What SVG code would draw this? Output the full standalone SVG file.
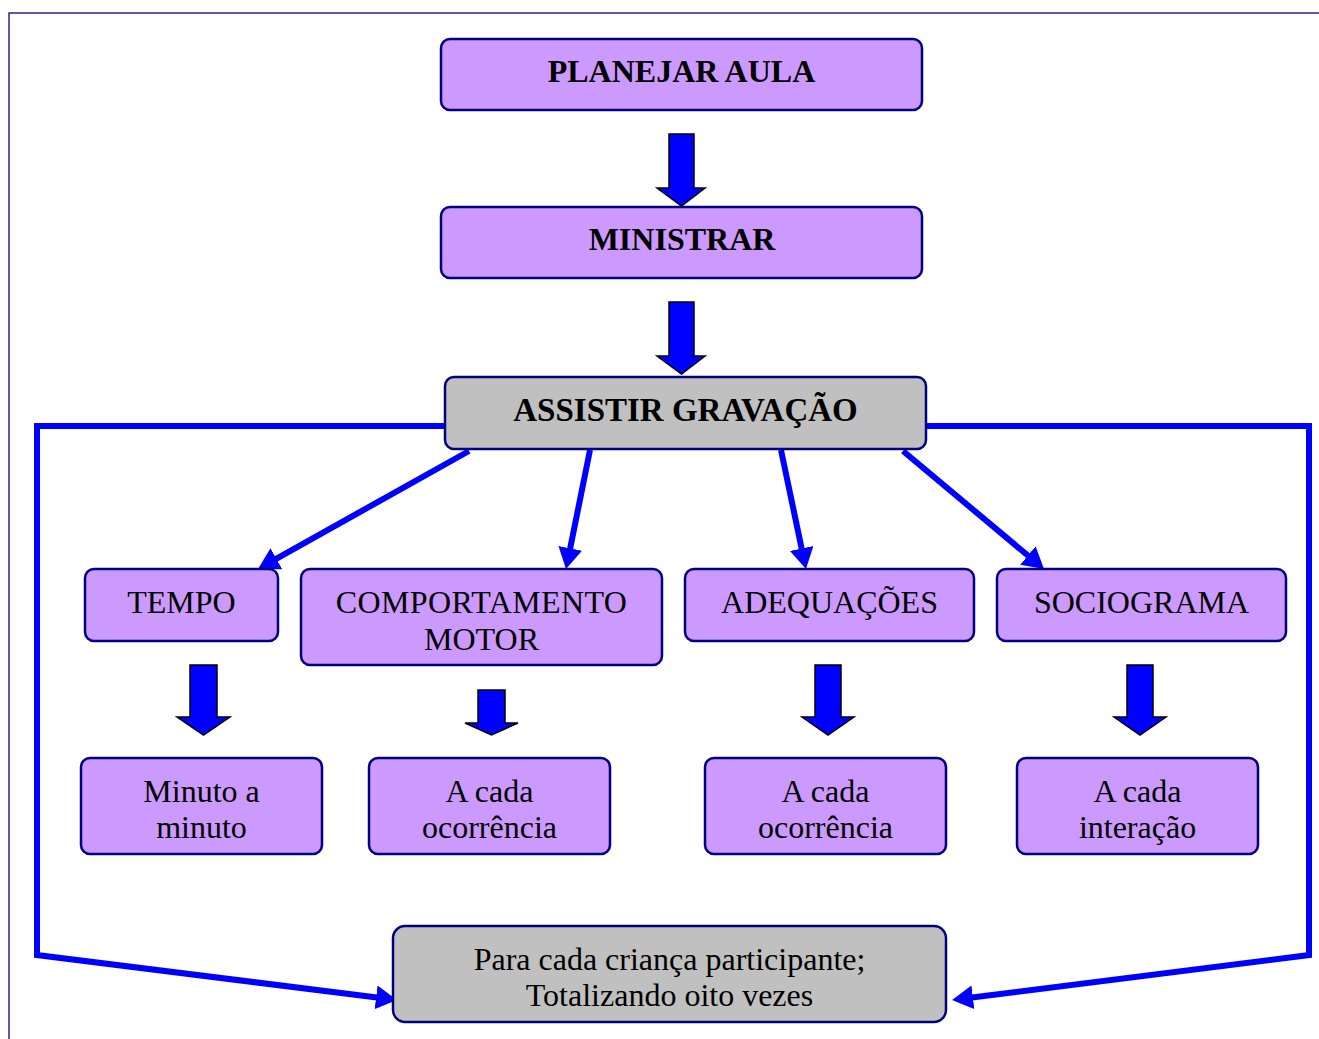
<svg xmlns="http://www.w3.org/2000/svg" width="1319" height="1039" viewBox="0 0 1319 1039">
  <style>
    .box { stroke: #000080; stroke-width: 2.5; }
    .lilac { fill: #cc99ff; }
    .grey { fill: #c0c0c0; }
    .t { font-family: "Liberation Serif", "Times New Roman", serif; font-size: 32px; fill: #000; text-anchor: middle; }
    .b { font-weight: bold; }
    .big { font-size: 33px; }
    .link { fill: none; stroke: #0000ff; stroke-width: 6; stroke-linejoin: miter; }
    .blk { fill: #0000ff; stroke: #000; stroke-width: 1.5; stroke-linejoin: miter; }
  </style>
  <defs>
    <marker id="head" markerUnits="userSpaceOnUse" markerWidth="22" markerHeight="24" viewBox="0 0 22 24" refX="9" refY="12" orient="auto">
      <path d="M0,0 L21,12 L0,24 z" fill="#0000ff"/>
    </marker>
  </defs>

  <rect width="1319" height="1039" fill="#fff"/>
  <!-- page frame -->
  <path d="M9,1039 L9,13 L1319,13" fill="none" stroke="#25259a" stroke-width="1.5"/>

  <!-- connectors -->
  <g id="connectors">
    <polygon class="blk" points="669,134 694,134 694,188 705,188 681.5,206 657,188 669,188"/>
    <polygon class="blk" points="669,302 694,302 694,356 705,356 681.5,374 657,356 669,356"/>
    <polygon class="blk" points="190,665 217,665 217,717 230,717 203.5,735 177,717 190,717"/>
    <polygon class="blk" points="478,690 505,690 505,723 518,723 491.5,735 465,723 478,723"/>
    <polygon class="blk" points="815,665 841,665 841,717 854,717 828,735 802,717 815,717"/>
    <polygon class="blk" points="1127,665 1153,665 1153,717 1166,717 1140,735 1114,717 1127,717"/>

    <path class="link" d="M469,451 L268.5,563.1" marker-end="url(#head)"/>
    <path class="link" d="M590,450 L568.4,557.2" marker-end="url(#head)"/>
    <path class="link" d="M781,450 L803.5,557.3" marker-end="url(#head)"/>
    <path class="link" d="M903,451 L1034.8,561.3" marker-end="url(#head)"/>

    <path class="link" d="M446,426 L37,426 L37,955 L385,998.5" marker-end="url(#head)"/>
    <path class="link" d="M925,426 L1309,426 L1309,955 L964,998.5" marker-end="url(#head)"/>
  </g>

  <g id="planejar">
    <rect class="box lilac" x="441" y="39" width="481" height="71" rx="9"/>
    <text class="t b" x="681.5" y="82">PLANEJAR AULA</text>
  </g>
  <g id="ministrar">
    <rect class="box lilac" x="441" y="207" width="481" height="71" rx="9"/>
    <text class="t b" x="682" y="250">MINISTRAR</text>
  </g>
  <g id="assistir">
    <rect class="box grey" x="445" y="377" width="481" height="72" rx="9"/>
    <text class="t b big" x="685.5" y="421">ASSISTIR GRAVAÇÃO</text>
  </g>

  <g id="tempo">
    <rect class="box lilac" x="85" y="569" width="193" height="72" rx="9"/>
    <text class="t" x="181.5" y="613">TEMPO</text>
  </g>
  <g id="comportamento">
    <rect class="box lilac" x="301" y="569" width="361" height="96" rx="9"/>
    <text class="t" x="481.5" y="613" letter-spacing="0.4">COMPORTAMENTO</text>
    <text class="t" x="481.5" y="650">MOTOR</text>
  </g>
  <g id="adequacoes">
    <rect class="box lilac" x="685" y="569" width="289" height="72" rx="9"/>
    <text class="t" x="829.5" y="613">ADEQUAÇÕES</text>
  </g>
  <g id="sociograma">
    <rect class="box lilac" x="997" y="569" width="289" height="72" rx="9"/>
    <text class="t" x="1141.5" y="613">SOCIOGRAMA</text>
  </g>

  <g id="minuto">
    <rect class="box lilac" x="81" y="758" width="241" height="96" rx="9"/>
    <text class="t" x="201.5" y="802">Minuto a</text>
    <text class="t" x="201.5" y="838">minuto</text>
  </g>
  <g id="ocorrencia-motor">
    <rect class="box lilac" x="369" y="758" width="241" height="96" rx="9"/>
    <text class="t" x="489.5" y="802">A cada</text>
    <text class="t" x="489.5" y="838">ocorrência</text>
  </g>
  <g id="ocorrencia-adequacoes">
    <rect class="box lilac" x="705" y="758" width="241" height="96" rx="9"/>
    <text class="t" x="825.5" y="802">A cada</text>
    <text class="t" x="825.5" y="838">ocorrência</text>
  </g>
  <g id="interacao">
    <rect class="box lilac" x="1017" y="758" width="241" height="96" rx="9"/>
    <text class="t" x="1137.5" y="802">A cada</text>
    <text class="t" x="1137.5" y="838">interação</text>
  </g>

  <g id="totalizando">
    <rect class="box grey" x="393" y="926" width="553" height="96" rx="12"/>
    <text class="t" x="669.5" y="970">Para cada criança participante;</text>
    <text class="t" x="669.5" y="1006">Totalizando oito vezes</text>
  </g>
</svg>
